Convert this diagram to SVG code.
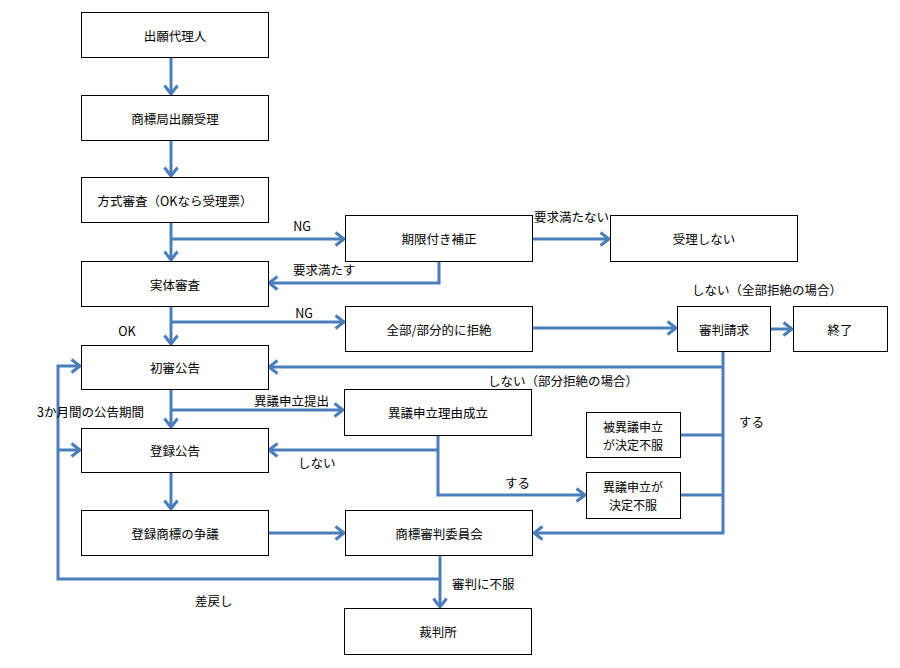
<svg xmlns="http://www.w3.org/2000/svg" width="900" height="668" viewBox="0 0 900 668">
<style>
.box{fill:#fff;stroke:#000;stroke-width:1}
text{font-family:"Noto Sans CJK JP","Noto Sans CJK SC",sans-serif;font-size:12.5px;fill:#000;dominant-baseline:central}
.c{text-anchor:middle}
.s{font-size:12px}
.ln{fill:none;stroke:#4a7ebb;stroke-width:3}
</style>
<defs>
<marker id="arr" markerUnits="userSpaceOnUse" markerWidth="20" markerHeight="20" refX="10" refY="10" orient="auto">
<path d="M1.5,3.5 L10,10 L1.5,16.5" fill="none" stroke="#4a7ebb" stroke-width="3"/>
</marker>
</defs>
<rect width="900" height="668" fill="#fff"/>
<g id="connectors">
<path class="ln" d="M171,57 V94" marker-end="url(#arr)"/>
<path class="ln" d="M171,140 V176" marker-end="url(#arr)"/>
<path class="ln" d="M171,222 V260" marker-end="url(#arr)"/>
<path class="ln" d="M171,239 H344" marker-end="url(#arr)"/>
<path class="ln" d="M533,239 H609" marker-end="url(#arr)"/>
<path class="ln" d="M439,261 V283 H269" marker-end="url(#arr)"/>
<path class="ln" d="M171,306 V344" marker-end="url(#arr)"/>
<path class="ln" d="M171,322 H344" marker-end="url(#arr)"/>
<path class="ln" d="M533,328 H676" marker-end="url(#arr)"/>
<path class="ln" d="M771,329 H792" marker-end="url(#arr)"/>
<path class="ln" d="M723,351 V533 H534" marker-end="url(#arr)"/>
<path class="ln" d="M723,367 H269" marker-end="url(#arr)"/>
<path class="ln" d="M680,435 H723"/>
<path class="ln" d="M680,495 H723"/>
<path class="ln" d="M171,389 V427" marker-end="url(#arr)"/>
<path class="ln" d="M171,410 H343" marker-end="url(#arr)"/>
<path class="ln" d="M438,435 V495 H585" marker-end="url(#arr)"/>
<path class="ln" d="M438,450 H269" marker-end="url(#arr)"/>
<path class="ln" d="M171,472 V509" marker-end="url(#arr)"/>
<path class="ln" d="M269,533 H344" marker-end="url(#arr)"/>
<path class="ln" d="M440,555 V607" marker-end="url(#arr)"/>
<path class="ln" d="M440,579 H58 V366 H80" marker-end="url(#arr)"/>
<path class="ln" d="M58,450 H80" marker-end="url(#arr)"/>
</g>
<g id="labels">
<text x="302" y="225" class="c">NG</text>
<text x="293" y="269">要求満たす</text>
<text x="304" y="312" class="c">NG</text>
<text x="127" y="330" class="c">OK</text>
<text x="534" y="216">要求満たない</text>
<text x="692" y="289">しない（全部拒絶の場合）</text>
<text x="488" y="380">しない（部分拒絶の場合）</text>
<text x="739" y="421">する</text>
<text x="254" y="400">異議申立提出</text>
<text x="37" y="411">3か月間の公告期間</text>
<text x="298" y="462">しない</text>
<text x="505" y="482">する</text>
<text x="195" y="600">差戻し</text>
<text x="452" y="583">審判に不服</text>
</g>
<g id="n1"><rect class="box" x="81.5" y="12.5" width="187" height="45"/><text x="175" y="35" class="c">出願代理人</text></g>
<g id="n2"><rect class="box" x="81.5" y="95.5" width="187" height="45"/><text x="175" y="118" class="c">商標局出願受理</text></g>
<g id="n3"><rect class="box" x="81.5" y="177.5" width="187" height="45"/><text x="175" y="200" class="c">方式審査（OKなら受理票）</text></g>
<g id="n4"><rect class="box" x="81.5" y="261.5" width="187" height="45"/><text x="175" y="284" class="c">実体審査</text></g>
<g id="n5"><rect class="box" x="81.5" y="345.5" width="187" height="44"/><text x="175" y="367" class="c">初審公告</text></g>
<g id="n6"><rect class="box" x="81.5" y="428.5" width="187" height="44"/><text x="175" y="450" class="c">登録公告</text></g>
<g id="n7"><rect class="box" x="81.5" y="510.5" width="187" height="45"/><text x="175" y="533" class="c">登録商標の争議</text></g>
<g id="n8"><rect class="box" x="345.5" y="215.5" width="187" height="46"/><text x="439" y="238" class="c">期限付き補正</text></g>
<g id="n9"><rect class="box" x="610.5" y="215.5" width="187" height="46"/><text x="704" y="238" class="c">受理しない</text></g>
<g id="n10"><rect class="box" x="345.5" y="306.5" width="187" height="45"/><text x="439" y="329" class="c">全部/部分的に拒絶</text></g>
<g id="n11"><rect class="box" x="677.5" y="306.5" width="93" height="45"/><text x="724" y="329" class="c">審判請求</text></g>
<g id="n12"><rect class="box" x="793.5" y="306.5" width="94" height="45"/><text x="840" y="329" class="c">終了</text></g>
<g id="n13"><rect class="box" x="344.5" y="389.5" width="187" height="46"/><text x="438" y="412" class="c">異議申立理由成立</text></g>
<g id="n14"><rect class="box" x="586.5" y="412.5" width="94" height="45"/><text x="633" y="426.5" class="c s">被異議申立</text><text x="633" y="444.5" class="c s">が決定不服</text></g>
<g id="n15"><rect class="box" x="586.5" y="472.5" width="94" height="46"/><text x="633" y="486.5" class="c s">異議申立が</text><text x="633" y="504.5" class="c s">決定不服</text></g>
<g id="n16"><rect class="box" x="345.5" y="510.5" width="187" height="45"/><text x="439" y="533" class="c">商標審判委員会</text></g>
<g id="n17"><rect class="box" x="344.5" y="608.5" width="187" height="46"/><text x="438" y="631" class="c">裁判所</text></g>
</svg>
